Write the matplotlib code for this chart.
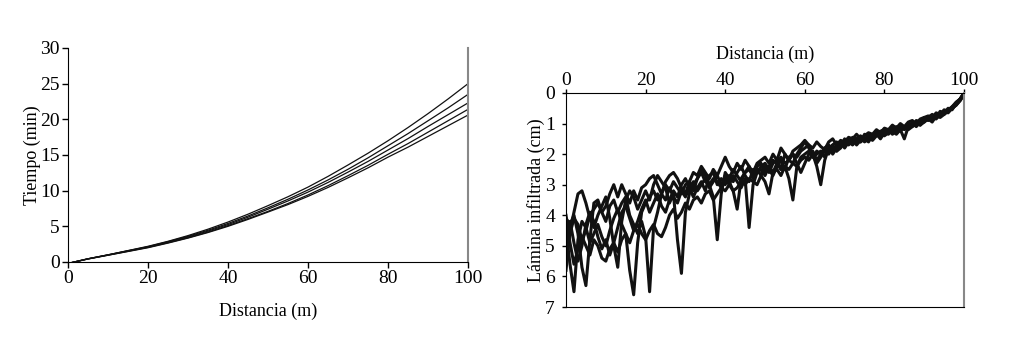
import numpy as np
import matplotlib.pyplot as plt

plt.rcParams['font.family'] = ['Liberation Serif', 'DejaVu Serif']

# left panel: advance time curves (every 5 m)
dist_adv = list(range(0, 101, 5))
t1 = [-0.2, 0.45, 1.0, 1.6, 2.2, 2.9, 3.7, 4.6, 5.6, 6.7, 7.9, 9.15, 10.5, 12.0, 13.6, 15.25, 17.0, 18.85, 20.8, 22.85, 25.0]
t2 = [-0.2, 0.45, 1.0, 1.58, 2.15, 2.85, 3.6, 4.45, 5.4, 6.45, 7.6, 8.8, 10.1, 11.5, 13.0, 14.6, 16.3, 18.0, 19.8, 21.6, 23.5]
t3 = [-0.2, 0.45, 1.0, 1.55, 2.1, 2.78, 3.5, 4.33, 5.25, 6.28, 7.4, 8.56, 9.8, 11.15, 12.6, 14.1, 15.7, 17.3, 19.0, 20.65, 22.3]
t4 = [-0.2, 0.42, 0.95, 1.5, 2.05, 2.7, 3.4, 4.2, 5.1, 6.08, 7.1, 8.2, 9.4, 10.7, 12.1, 13.55, 15.1, 16.6, 18.2, 19.8, 21.4]
t5 = [-0.2, 0.42, 0.95, 1.47, 2.0, 2.65, 3.35, 4.13, 5.0, 5.97, 7.0, 8.05, 9.2, 10.45, 11.8, 13.2, 14.7, 16.1, 17.6, 19.1, 20.6]

# right panel: infiltrated depth along the furrow (every 1 m)
dist_inf = list(range(0, 101))
d1 = [4.5, 5.6, 6.5, 4.8, 4.2, 4.4, 4.9, 4.6, 4.3, 4.7,
      5.0, 4.5, 4.1, 3.8, 4.3, 4.6, 5.8, 6.6, 4.9, 3.9,
      3.6, 3.4, 3.2, 3.5, 3.3, 3.0, 3.2, 2.9, 3.1, 3.3,
      3.0, 2.9, 3.2, 2.8, 2.6, 2.9, 3.0, 3.4, 4.8, 3.3,
      2.6, 2.8, 2.5, 2.7, 2.9, 2.6, 2.5, 2.7, 2.4, 2.3,
      2.6, 2.4, 2.2, 2.3, 2.1, 2.3, 2.2, 2.0, 2.1, 1.9,
      1.8, 1.7, 2.0, 2.4, 3.0, 2.2, 1.8, 1.9, 1.7, 1.6,
      1.8, 1.6, 1.5, 1.7, 1.55, 1.5, 1.6, 1.4, 1.35, 1.5,
      1.3, 1.2, 1.35, 1.25, 1.1, 1.2, 1.05, 1.0, 1.1, 0.95,
      0.9, 0.85, 0.95, 0.75, 0.7, 0.6, 0.65, 0.5, 0.4, 0.25,
      0.05]
d2 = [4.1, 4.3, 4.0, 4.6, 5.7, 6.3, 4.8, 3.6, 3.5, 3.9,
      4.2, 3.7, 3.5, 3.9, 3.6, 3.4, 4.0, 4.3, 4.6, 4.2,
      4.7, 6.5, 4.4, 3.9, 3.3, 3.5, 3.1, 3.4, 3.6, 3.2,
      3.4, 3.1, 2.9, 3.2, 3.0, 2.8, 3.1, 2.9, 2.7, 3.0,
      2.8, 3.0, 2.7, 2.9, 3.1, 2.8, 4.4, 3.0, 2.6, 2.5,
      2.7, 2.4, 2.6, 2.3, 2.5, 2.4, 2.8, 3.5, 2.4, 2.1,
      2.0, 1.9, 2.1, 2.0, 1.9, 2.1, 1.8, 1.7, 1.9, 1.8,
      1.6, 1.7, 1.55, 1.6, 1.45, 1.6, 1.5, 1.35, 1.4, 1.3,
      1.35, 1.25, 1.15, 1.3, 1.2, 1.5, 1.1, 1.0, 0.95, 1.05,
      0.85, 0.9, 0.8, 0.85, 0.7, 0.65, 0.6, 0.5, 0.35, 0.2,
      0.0]
d3 = [5.8, 4.5, 3.9, 3.3, 3.2, 3.6, 4.1, 4.4, 4.0, 3.7,
      3.4, 4.1, 5.0, 5.7, 4.2, 3.5, 3.2, 3.4, 3.8, 3.5,
      3.2, 3.5, 3.0, 2.7, 2.9, 3.1, 3.6, 3.3, 4.8, 5.9,
      3.9, 3.3, 3.0, 2.8, 2.5, 2.7, 3.0, 2.8, 2.9, 3.1,
      2.7, 2.9, 3.2, 3.8, 2.8, 2.6, 2.4, 2.8, 2.5, 2.7,
      2.4, 2.6, 2.3, 2.2, 2.5, 2.0, 2.2, 2.3, 2.0, 1.8,
      1.6, 1.8, 2.1, 1.9, 2.0, 1.8, 1.9, 1.7, 1.6, 1.75,
      1.5, 1.65, 1.45, 1.5, 1.6, 1.35, 1.4, 1.5, 1.3, 1.25,
      1.2, 1.3, 1.1, 1.2, 1.05, 1.15, 1.0, 1.1, 0.9, 0.95,
      0.8, 0.85, 0.75, 0.8, 0.65, 0.7, 0.55, 0.45, 0.3, 0.2,
      0.0]
d4 = [4.0, 4.9, 5.6, 5.1, 4.7, 5.0, 5.3, 4.8, 5.0, 5.4,
      5.5, 5.1, 4.9, 5.2, 4.8, 4.6, 4.9, 4.5, 4.3, 4.6,
      4.8, 4.5, 4.3, 4.6, 4.7, 4.4, 4.0, 3.8, 4.1, 3.9,
      3.6, 3.8, 3.5, 3.4, 3.6, 3.3, 3.2, 3.5, 3.3, 3.1,
      3.2, 3.0, 3.2, 3.1, 2.9, 3.0, 2.8, 2.9, 3.0, 2.7,
      2.9, 3.3, 2.6, 2.5, 2.7, 2.4, 2.5, 2.3, 2.4, 2.2,
      2.1, 2.2, 2.0, 2.3, 2.1, 1.9, 2.0, 1.8, 1.9, 1.7,
      1.75, 1.6, 1.7, 1.55, 1.6, 1.5, 1.45, 1.55, 1.4, 1.35,
      1.4, 1.3, 1.25, 1.35, 1.2, 1.15, 1.2, 1.1, 1.0, 1.05,
      0.95, 0.85, 0.9, 0.75, 0.8, 0.7, 0.6, 0.5, 0.4, 0.25,
      0.05]
d5 = [5.2, 4.6, 4.1, 4.3, 4.8, 4.5, 4.0, 3.8, 3.6, 3.9,
      3.7, 3.3, 3.0, 3.4, 3.0, 3.3, 3.6, 3.2, 3.5, 3.1,
      3.0, 2.8, 2.7, 3.0, 3.3, 2.9, 2.7, 2.6, 2.8, 3.1,
      3.3, 2.9, 2.6, 2.7, 2.4, 2.6, 2.8, 2.5, 2.7, 2.4,
      2.1, 2.4, 2.6, 2.3, 2.5, 2.2, 2.4, 2.6, 2.3, 2.2,
      2.1, 2.3, 2.0, 2.2, 1.8, 2.0, 2.2, 1.9, 1.8, 1.7,
      1.55, 1.7, 1.8, 1.6, 1.75, 1.85, 1.6, 1.5, 1.7, 1.55,
      1.6, 1.45, 1.5, 1.35, 1.5, 1.4, 1.3, 1.35, 1.2, 1.3,
      1.15, 1.2, 1.05, 1.15, 1.0, 1.1, 0.95, 0.9, 1.0, 0.85,
      0.8, 0.75, 0.8, 0.65, 0.7, 0.55, 0.6, 0.45, 0.35, 0.2,
      0.0]
d6 = [4.6, 4.2, 4.9, 5.5, 5.0, 4.3, 3.9, 4.2, 4.7, 5.1,
      4.8, 5.3, 4.9, 4.4, 3.9, 3.7, 4.1, 4.5, 4.2, 3.8,
      3.5, 3.9, 3.6, 3.3, 3.7, 3.9, 3.5, 3.2, 3.4, 3.0,
      2.8, 3.1, 3.4, 3.1, 2.9, 3.2, 2.7, 2.6, 3.0, 2.8,
      3.0, 2.7, 2.9, 2.6, 2.4, 2.7, 2.9, 2.5, 2.6, 2.4,
      2.3, 2.5, 2.7, 2.4, 2.2, 2.5, 2.1, 2.0, 2.3, 2.6,
      2.3, 2.0, 1.9, 2.2, 2.0, 1.8, 1.7, 2.0, 1.8, 1.65,
      1.7, 1.55, 1.65, 1.5, 1.4, 1.55, 1.35, 1.45, 1.3, 1.4,
      1.25, 1.35, 1.2, 1.1, 1.25, 1.1, 1.15, 0.95, 1.0, 0.9,
      0.95, 0.8, 0.7, 0.8, 0.6, 0.65, 0.5, 0.55, 0.35, 0.2,
      0.05]

fs_tick = 14
fs_lab = 13

fig = plt.figure(figsize=(10.12, 3.41), dpi=100)

# left
ax1 = fig.add_axes([0.0672, 0.2317, 0.3953, 0.6276])
for t in [t1, t2, t3, t4, t5]:
    ax1.plot(dist_adv, t, color='#111111', lw=0.9)
ax1.set_xlim(0, 100)
ax1.set_ylim(0, 30)
ax1.set_xticks([0, 20, 40, 60, 80, 100])
ax1.set_yticks([0, 5, 10, 15, 20, 25, 30])
ax1.spines['top'].set_visible(False)
ax1.spines['right'].set_color('#888888')
ax1.spines['right'].set_linewidth(1.5)
ax1.tick_params(labelsize=fs_tick, length=4, width=1, pad=2)
ax1.set_xlabel('Distancia (m)', fontsize=fs_lab, labelpad=11)
ax1.set_ylabel('Tiempo (min)', fontsize=fs_lab, labelpad=-1)

# right
ax2 = fig.add_axes([0.5593, 0.0997, 0.3933, 0.6276])
for d in [d1, d2, d3, d4, d5, d6]:
    ax2.plot(dist_inf, d, color='#111111', lw=2.2)
ax2.set_xlim(0, 100)
ax2.set_ylim(7, 0)
ax2.set_xticks([0, 20, 40, 60, 80, 100])
ax2.set_yticks(range(0, 8))
ax2.xaxis.tick_top()
ax2.xaxis.set_label_position('top')
ax2.spines['right'].set_color('#888888')
ax2.spines['right'].set_linewidth(1.5)
ax2.tick_params(labelsize=fs_tick, length=3, width=1)
ax2.tick_params(axis='x', pad=0)
ax2.tick_params(axis='y', pad=5)
ax2.set_xlabel('Distancia (m)', fontsize=fs_lab, labelpad=9)
ax2.set_ylabel('Lámina infiltrada (cm)', fontsize=fs_lab, labelpad=0)

fig.savefig('out.png', dpi=100, facecolor='white')
